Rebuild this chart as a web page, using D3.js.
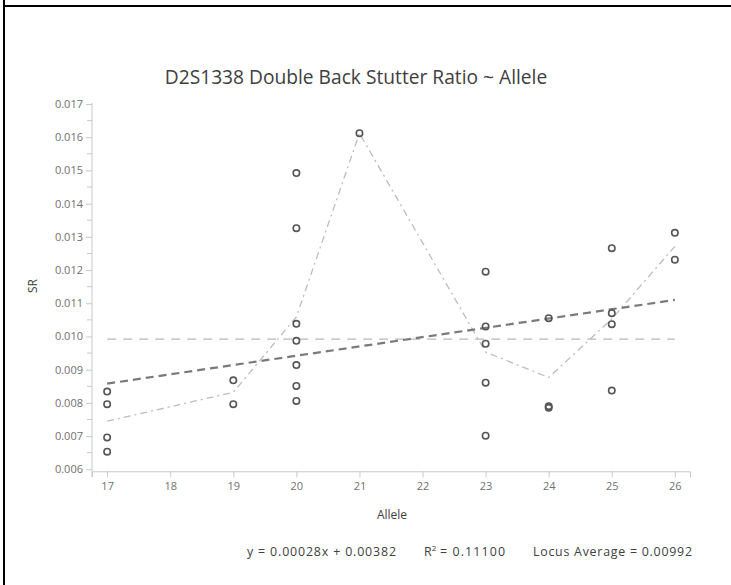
<!DOCTYPE html>
<html>
<head>
<meta charset="utf-8">
<script src="https://cdn.jsdelivr.net/npm/d3@7"></script>
<style>
  html, body { margin: 0; padding: 0; background: #fff; }
  svg { display: block; font-family: "Open Sans", "Noto Sans", sans-serif; }
</style>
</head>
<body>
<svg id="chart" width="731" height="585"></svg>
<script>
// ---- data ----
const title = "D2S1338 Double Back Stutter Ratio ~ Allele";
const xLabel = "Allele";
const yLabel = "SR";
const alleles = [17, 17, 17, 17, 19, 19, 20, 20, 20, 20, 20, 20, 20, 21,
                 23, 23, 23, 23, 23, 24, 24, 24, 25, 25, 25, 25, 26, 26];
const ratios = [0.00834, 0.00796, 0.00696, 0.00653, 0.00868, 0.00796,
                0.01492, 0.01326, 0.01038, 0.00987, 0.00914, 0.00851, 0.00806,
                0.01612,
                0.01195, 0.01030, 0.00978, 0.00861, 0.00701,
                0.01055, 0.00790, 0.00785,
                0.01266, 0.01070, 0.01037, 0.00837,
                0.01312, 0.01231];
const xTicks = [17, 18, 19, 20, 21, 22, 23, 24, 25, 26];
const yTicks = [0.006, 0.007, 0.008, 0.009, 0.010, 0.011, 0.012, 0.013, 0.014, 0.015, 0.016, 0.017];
const slope = 0.00028;
const intercept = 0.00382;
const rSquared = 0.11100;
const locusAverage = 0.00992;

// ---- layout ----
const svg = d3.select("#chart");
const x = d3.scaleLinear().domain([16.76, 26.24]).range([92, 690]);
const y = d3.scaleLinear().domain([0.00594, 0.017]).range([471.3, 104]);

// frame lines
svg.append("rect").attr("x", 3).attr("y", 5).attr("width", 728).attr("height", 2).attr("fill", "#000");
svg.append("rect").attr("x", 3).attr("y", 0).attr("width", 2).attr("height", 585).attr("fill", "#000");

// title
svg.append("text").attr("x", 356).attr("y", 84).attr("text-anchor", "middle")
  .attr("font-size", 19.2).attr("fill", "#404040").text(title);

const axisColor = "#c8c8c8";
const tickText = "#707070";

// y axis
const yAxis = d3.axisLeft(y).tickValues(yTicks).tickFormat(d3.format(".3f")).tickSize(6).tickSizeOuter(0).tickPadding(3);
const gy = svg.append("g").attr("transform", "translate(92,0)").call(yAxis);
gy.select(".domain").attr("stroke", axisColor).attr("d", "M0,103V477");
gy.selectAll(".tick line").attr("stroke", axisColor);
gy.selectAll(".tick text").attr("fill", tickText).attr("font-size", 11).attr("font-family", "Open Sans, sans-serif");
// minor ticks
const minor = d3.range(0, yTicks.length - 1).map(i => (yTicks[i] + yTicks[i + 1]) / 2);
gy.selectAll(".minor").data(minor).enter().append("line")
  .attr("x1", -5).attr("x2", 0).attr("y1", d => y(d)).attr("y2", d => y(d)).attr("stroke", axisColor);

// x axis
const xAxis = d3.axisBottom(x).tickValues(xTicks).tickFormat(d3.format("d")).tickSize(6).tickSizeOuter(6).tickPadding(5);
const gx = svg.append("g").attr("transform", "translate(0,471.3)").call(xAxis);
gx.select(".domain").attr("stroke", axisColor);
gx.selectAll(".tick line").attr("stroke", axisColor);
gx.selectAll(".tick text").attr("fill", tickText).attr("font-size", 11).attr("font-family", "Open Sans, sans-serif");

// axis labels
svg.append("text").attr("x", 392).attr("y", 519).attr("text-anchor", "middle")
  .attr("font-size", 12).attr("fill", "#404040").text(xLabel);
svg.append("text").attr("transform", "translate(37,286) rotate(-90)").attr("text-anchor", "middle")
  .attr("font-size", 12).attr("fill", "#404040").text(yLabel);

// locus average line
svg.append("line")
  .attr("x1", x(17)).attr("x2", x(26)).attr("y1", y(locusAverage)).attr("y2", y(locusAverage))
  .attr("stroke", "#b8b8b8").attr("stroke-width", 1.3).attr("stroke-dasharray", "9,7");

// mean per allele line
const means = d3.rollups(alleles.map((a, i) => [a, ratios[i]]), v => d3.mean(v, d => d[1]), d => d[0])
  .sort((a, b) => a[0] - b[0]);
svg.append("path")
  .attr("d", d3.line().x(d => x(d[0])).y(d => y(d[1]))(means))
  .attr("fill", "none").attr("stroke", "#bdbdbd").attr("stroke-width", 1.3)
  .attr("stroke-dasharray", "7,4,2,4");

// regression line
svg.append("line")
  .attr("x1", x(17)).attr("x2", x(26))
  .attr("y1", y(slope * 17 + intercept)).attr("y2", y(slope * 26 + intercept))
  .attr("stroke", "#7a7a7a").attr("stroke-width", 2.2).attr("stroke-dasharray", "8,5");

// points
svg.append("g").selectAll("circle").data(alleles.map((a, i) => [a, ratios[i]])).enter()
  .append("circle")
  .attr("cx", d => x(d[0])).attr("cy", d => y(d[1])).attr("r", 3.2)
  .attr("fill", "none").attr("stroke", "#555").attr("stroke-width", 1.6);

// footer
const foot = svg.append("g").attr("font-size", 12.4).attr("fill", "#404040");
foot.append("text").attr("x", 247).attr("y", 556)
  .attr("textLength", 149).attr("lengthAdjust", "spacing")
  .text(`y = ${slope.toFixed(5)}x + ${intercept.toFixed(5)}`);
const r2 = foot.append("text").attr("x", 424).attr("y", 556);
r2.append("tspan").text("R");
r2.append("tspan").attr("dy", -5).attr("font-size", 8).text("2");
r2.append("tspan").attr("dy", 5).attr("x", 440).attr("textLength", 65).attr("lengthAdjust", "spacing")
  .text(`= ${rSquared.toFixed(5)}`);
foot.append("text").attr("x", 533).attr("y", 556)
  .attr("textLength", 159).attr("lengthAdjust", "spacing")
  .text(`Locus Average = ${locusAverage.toFixed(5)}`);
</script>
</body>
</html>
